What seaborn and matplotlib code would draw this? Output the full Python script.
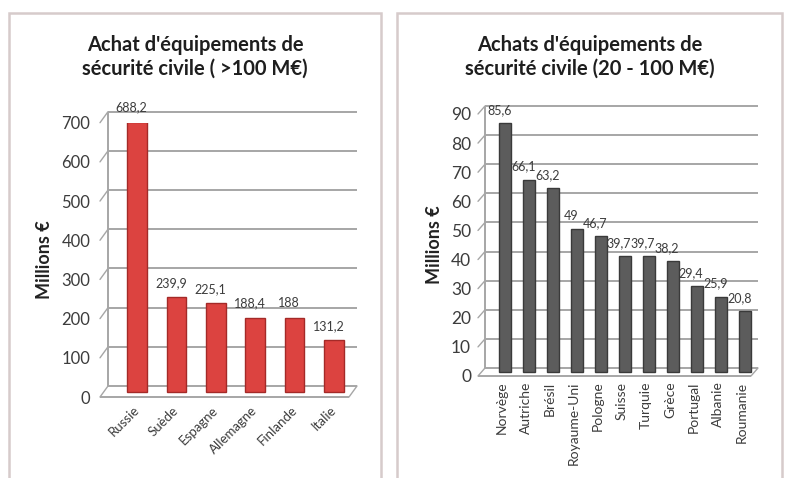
import matplotlib
matplotlib.use('Agg')
import matplotlib.pyplot as plt
import matplotlib.transforms as mtransforms
from matplotlib.patches import Rectangle, ConnectionPatch
import seaborn as sns
import pandas as pd

# ---------------- data ----------------
left_title = "Achat d'équipements de\nsécurité civile ( >100 M€)"
left_countries = ['Russie', 'Suède', 'Espagne', 'Allemagne', 'Finlande', 'Italie']
left_values = [688.2, 239.9, 225.1, 188.4, 188.0, 131.2]
left_ticks = [0, 100, 200, 300, 400, 500, 600, 700]

right_title = "Achats d'équipements de\nsécurité civile (20 - 100 M€)"
right_countries = ['Norvège', 'Autriche', 'Brésil', 'Royaume-Uni', 'Pologne', 'Suisse',
                   'Turquie', 'Grèce', 'Portugal', 'Albanie', 'Roumanie']
right_values = [85.6, 66.1, 63.2, 49.0, 46.7, 39.7, 39.7, 38.2, 29.4, 25.9, 20.8]
right_ticks = [0, 10, 20, 30, 40, 50, 60, 70, 80, 90]

y_label = 'Millions €'

# ---------------- style ----------------
sns.set_style('white')
plt.rcParams['font.family'] = ['Lato', 'DejaVu Sans']
TXT = '#3c3c3c'
GRID = '#a6a6a6'

W, H = 790, 478
fig = plt.figure(figsize=(W / 100, H / 100), dpi=100)


def fmt(v):
    s = ('%.1f' % v).replace('.', ',')
    return s[:-2] if s.endswith(',0') else s


def px_axes(l, r, y0, ytop):
    return fig.add_axes([l / W, (H - y0) / H, (r - l) / W, (y0 - ytop) / H])


def frame3d(ax, ticks, dx, dy):
    front = ax.get_yaxis_transform()
    back = mtransforms.offset_copy(front, fig=fig, x=dx, y=dy, units='dots')
    wpx = ax.bbox.width
    xe = 1 - dx / wpx
    kw = dict(color=GRID, lw=1.4, clip_on=False, zorder=0.5, solid_capstyle='butt')
    ax.plot([0, 0], [ticks[0], ticks[-1]], transform=back, **kw)
    for t in ticks:
        ax.plot([0, xe], [t, t], transform=back, **kw)
        cp = ConnectionPatch(xyA=(0, t), coordsA=front, xyB=(0, t), coordsB=back,
                             color=GRID, lw=1.0, zorder=0.5)
        cp.set_clip_on(False)
        ax.add_artist(cp)
    ax.plot([0, xe], [ticks[0], ticks[0]], transform=front, **kw)
    cp = ConnectionPatch(xyA=(xe, ticks[0]), coordsA=front, xyB=(xe, ticks[0]), coordsB=back,
                         color=GRID, lw=1.0, zorder=0.5)
    cp.set_clip_on(False)
    ax.add_artist(cp)
    # bars sit at mid-depth of the 3D box
    mid = mtransforms.offset_copy(ax.transData, fig=fig, x=dx / 2, y=dy / 2, units='dots')
    for p in ax.patches:
        p.set_transform(mid)


# panel borders
for (l, r) in [(9, 381), (397, 782)]:
    fig.patches.append(Rectangle((l / W, -0.05), (r - l) / W, (H - 13) / H + 0.05,
                                 transform=fig.transFigure, fill=False,
                                 edgecolor='#d6cbcb', lw=1.8))

# ---------------- left chart ----------------
axL = px_axes(100, 357, 397, 122.7)
dfL = pd.DataFrame({'pays': left_countries, 'val': left_values})
sns.barplot(data=dfL, x='pays', y='val', color='#dc4340', edgecolor='#a42a28',
            linewidth=1.0, width=0.5, saturation=1, ax=axL, zorder=2)
axL.set_ylim(0, 700)
axL.set_xlim(-0.838, 5.685)
axL.set_yticks(left_ticks)
axL.set_yticklabels([str(t) for t in left_ticks], fontsize=12, color=TXT)
axL.tick_params(axis='y', length=0, pad=7)
axL.tick_params(axis='x', length=0, pad=5)
axL.set_xticks(range(len(left_countries)))
axL.set_xticklabels(left_countries, rotation=45, ha='right', rotation_mode='anchor',
                    fontsize=9.5, color=TXT)
axL.set_xlabel('')
axL.set_ylabel(y_label, fontsize=13, fontweight='bold', color='#222222', labelpad=6)
for s in axL.spines.values():
    s.set_visible(False)
frame3d(axL, left_ticks, 8, 11)
for i, v in enumerate(left_values):
    axL.annotate(fmt(v), (i, v), xytext=(-1, 10), textcoords='offset points',
                 ha='center', va='bottom', fontsize=9, color=TXT, zorder=3)
fig.text(195 / W, 1 - 57 / H, left_title, ha='center', va='center', fontsize=14.5,
         fontweight='bold', color='#1e1e1e', linespacing=1.2)

# ---------------- right chart ----------------
axR = px_axes(478, 758, 376, 114)
dfR = pd.DataFrame({'pays': right_countries, 'val': right_values})
sns.barplot(data=dfR, x='pays', y='val', color='#5c5c5c', edgecolor='#3a3a3a',
            linewidth=1.0, width=0.5, saturation=1, ax=axR, zorder=2)
axR.set_ylim(0, 90)
axR.set_xlim(-1.0, 10.667)
axR.set_yticks(right_ticks)
axR.set_yticklabels([str(t) for t in right_ticks], fontsize=12.5, color=TXT)
axR.tick_params(axis='y', length=0, pad=5)
axR.tick_params(axis='x', length=0, pad=4)
axR.set_xticks(range(len(right_countries)))
axR.set_xticklabels(right_countries, rotation=90, ha='center', va='top',
                    fontsize=10, color=TXT)
axR.set_xlabel('')
axR.set_ylabel(y_label, fontsize=13, fontweight='bold', color='#222222', labelpad=6)
for s in axR.spines.values():
    s.set_visible(False)
frame3d(axR, right_ticks, 7, 8)
for i, v in enumerate(right_values):
    axR.annotate(fmt(v), (i, v), xytext=(-2, 8), textcoords='offset points',
                 ha='center', va='bottom', fontsize=9, color=TXT, zorder=3)
fig.text(590 / W, 1 - 57 / H, right_title, ha='center', va='center', fontsize=14.5,
         fontweight='bold', color='#1e1e1e', linespacing=1.2)

fig.savefig('out.png', dpi=100, facecolor='white')
